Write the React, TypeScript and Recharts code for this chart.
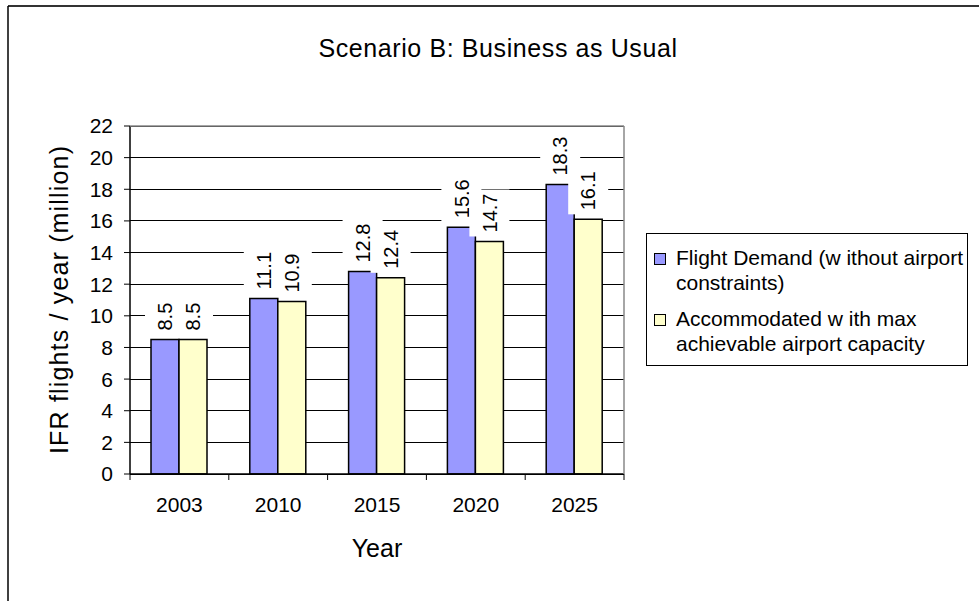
import { BarChart, Bar, XAxis, YAxis, CartesianGrid, LabelList, Label } from "recharts";

const years = ["2003", "2010", "2015", "2020", "2025"];
const demand = [8.5, 11.1, 12.8, 15.6, 18.3];
const accommodated = [8.5, 10.9, 12.4, 14.7, 16.1];
const yTicks = [0, 2, 4, 6, 8, 10, 12, 14, 16, 18, 20, 22];
const legendLines = [
  ["Flight Demand (w ithout airport", "constraints)"],
  ["Accommodated w ith max", "achievable airport capacity"],
];

const data = years.map((year, i) => ({
  year,
  demand: demand[i],
  accommodated: accommodated[i],
}));

const FONT = "'Liberation Sans', Arial, sans-serif";
const W = 979;
const H = 601;
const PLOT_LEFT = 130;
const PLOT_RIGHT = 624;
const PLOT_TOP = 126;
const PLOT_BOTTOM = 474;
const COLORS = ["#9999FF", "#FFFFCC"];

// rough Arial advance widths for the numeric labels
const textWidth = (s: string, size: number) =>
  s.split("").reduce((w, c) => w + (c === "." ? 0.278 : 0.556), 0) * size;

const ValueLabel = (props: any) => {
  const { x, y, width, value } = props;
  const cx = Number(x) + Number(width) / 2;
  const top = Number(y);
  const s = Number(value).toFixed(1);
  const tw = textWidth(s, 20);
  return (
    <g transform={`translate(${cx},${top - 9}) rotate(-90)`}>
      <rect x={-4} y={-20} width={tw + 8} height={40} fill="#fff" />
      <text x={0} y={0} dy="0.36em" fontSize={20} fill="#000" fontFamily={FONT}>
        {s}
      </text>
    </g>
  );
};

const YearTick = (props: any) => {
  const { x, payload } = props;
  const band = (PLOT_RIGHT - PLOT_LEFT) / years.length;
  const idx = years.indexOf(String(payload.value));
  return (
    <g>
      <line x1={x - band / 2} y1={PLOT_BOTTOM} x2={x - band / 2} y2={PLOT_BOTTOM + 6} stroke="#000" />
      {idx === years.length - 1 && (
        <line x1={x + band / 2} y1={PLOT_BOTTOM} x2={x + band / 2} y2={PLOT_BOTTOM + 6} stroke="#000" />
      )}
      <text x={x} y={PLOT_BOTTOM + 38} textAnchor="middle" fontSize={21} fill="#000" fontFamily={FONT}>
        {payload.value}
      </text>
    </g>
  );
};

export default function App() {
  return (
    <div style={{ position: "relative", width: W, height: H, overflow: "hidden", background: "#fff", fontFamily: FONT }}>
      <style>{"body{margin:0}"}</style>
      <BarChart
        width={W}
        height={H}
        data={data}
        margin={{ top: PLOT_TOP, right: W - PLOT_RIGHT, bottom: 77, left: 80 }}
        barCategoryGap={21}
        barGap={0}
      >
        <CartesianGrid vertical={false} stroke="#000" strokeWidth={1} shapeRendering="crispEdges" />
        <XAxis
          dataKey="year"
          height={50}
          interval={0}
          tickLine={false}
          axisLine={{ stroke: "#000", strokeWidth: 1.5 }}
          tick={<YearTick />}
        >
          <Label
            content={() => (
              <text x={(PLOT_LEFT + PLOT_RIGHT) / 2} y={PLOT_BOTTOM + 83} textAnchor="middle" fontSize={25} fill="#000" fontFamily={FONT}>
                Year
              </text>
            )}
          />
        </XAxis>
        <YAxis
          width={50}
          domain={[0, 22]}
          ticks={yTicks}
          interval={0}
          tickSize={6}
          tickMargin={11}
          tickLine={{ stroke: "#000" }}
          axisLine={{ stroke: "#000", strokeWidth: 1.5 }}
          tick={{ fill: "#000", fontSize: 21, fontFamily: FONT }}
        >
          <Label
            content={() => (
              <text
                transform={`translate(68,${(PLOT_TOP + PLOT_BOTTOM) / 2}) rotate(-90)`}
                textAnchor="middle"
                fontSize={25}
                fill="#000"
                fontFamily={FONT}
                textLength={308}
                lengthAdjust="spacing"
              >
                IFR flights / year (million)
              </text>
            )}
          />
        </YAxis>
        <Bar dataKey="demand" fill={COLORS[0]} stroke="#000" strokeWidth={1.5} isAnimationActive={false}>
          <LabelList dataKey="demand" content={<ValueLabel />} />
        </Bar>
        <Bar dataKey="accommodated" fill={COLORS[1]} stroke="#000" strokeWidth={1.5} isAnimationActive={false}>
          <LabelList dataKey="accommodated" content={<ValueLabel />} />
        </Bar>
      </BarChart>

      {/* frame, title and plot border */}
      <svg width={W} height={H} style={{ position: "absolute", left: 0, top: 0, pointerEvents: "none" }}>
        <line x1={8} y1={6} x2={W} y2={6} stroke="#333" strokeWidth={2} />
        <line x1={8} y1={6} x2={8} y2={H} stroke="#000" strokeWidth={1.5} />
        <line x1={PLOT_LEFT} y1={PLOT_TOP} x2={PLOT_RIGHT} y2={PLOT_TOP} stroke="#888" strokeWidth={1.5} />
        <line x1={PLOT_RIGHT} y1={PLOT_TOP} x2={PLOT_RIGHT} y2={PLOT_BOTTOM} stroke="#888" strokeWidth={1.5} />
        <text x={498} y={57} textAnchor="middle" fontSize={25} letterSpacing={0.6} fill="#000" fontFamily={FONT}>
          Scenario B: Business as Usual
        </text>
      </svg>

      {/* legend */}
      <div
        style={{
          position: "absolute",
          left: 646,
          top: 233,
          width: 320,
          height: 131,
          border: "1px solid #000",
          background: "#fff",
          boxSizing: "content-box",
        }}
      >
        {legendLines.map((lines, i) => (
          <div key={i} style={{ position: "absolute", left: 7, top: i === 0 ? 11 : 72, display: "flex" }}>
            <div
              style={{
                width: 10,
                height: 10,
                marginTop: 8,
                border: "1.5px solid #000",
                background: COLORS[i],
                flex: "none",
              }}
            />
            <div style={{ marginLeft: 10, fontSize: 21, lineHeight: "25px", whiteSpace: "nowrap", color: "#000" }}>
              {lines.map((l, j) => (
                <div key={j}>{l}</div>
              ))}
            </div>
          </div>
        ))}
      </div>
    </div>
  );
}
